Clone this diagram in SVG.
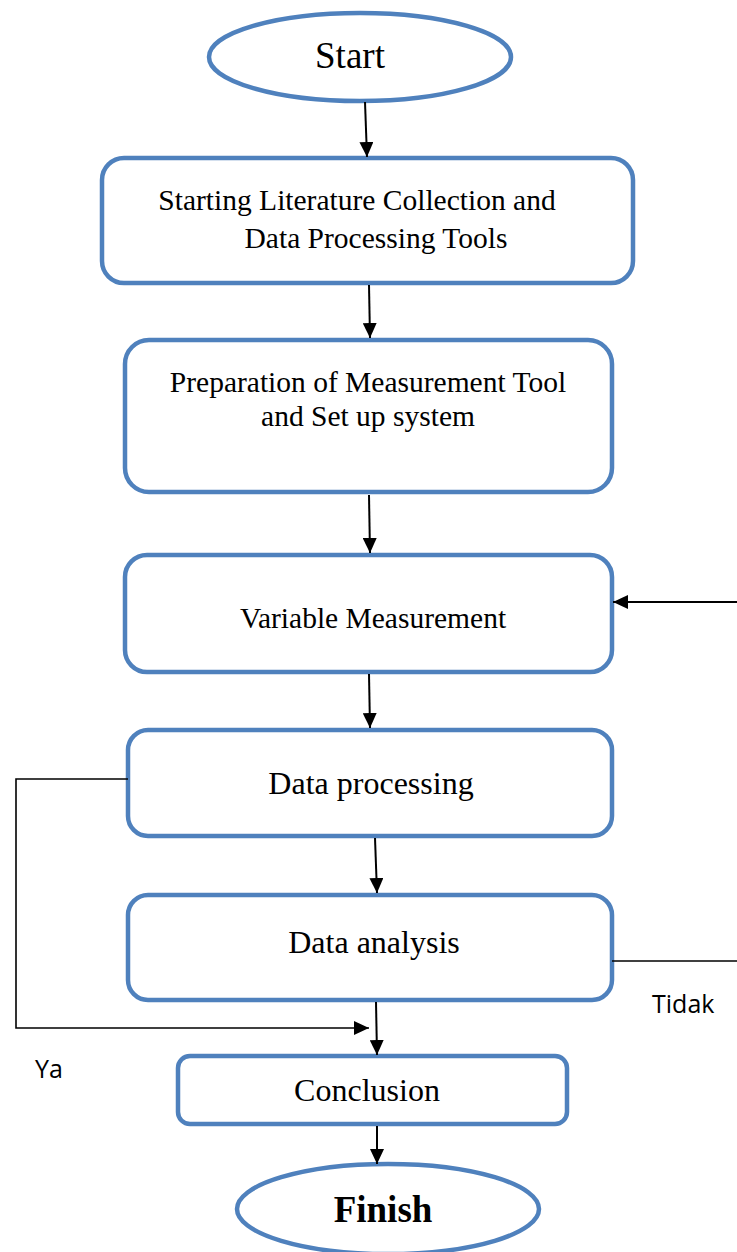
<svg xmlns="http://www.w3.org/2000/svg" width="737" height="1252" viewBox="0 0 737 1252">
  <style>
    .node { fill: #ffffff; stroke: #4f81bd; stroke-width: 4.5; }
    .lbl { font-family: "Liberation Serif", "Times New Roman", serif; font-size: 29.5px; fill: #000; text-anchor: middle; }
    .big { font-size: 32px; }
    .term { font-size: 37px; }
    .side { font-family: "Open Sans", "Liberation Sans", sans-serif; font-size: 25px; fill: #000; }
    .wire { fill: none; stroke: #000; stroke-width: 2; }
    .thin { fill: none; stroke: #000; stroke-width: 1.6; }
  </style>
  <defs>
    <marker id="arrow" viewBox="0 0 15 14" refX="15" refY="7" markerWidth="15" markerHeight="14" markerUnits="userSpaceOnUse" orient="auto">
      <path d="M0,0 L15,7 L0,14 Z" fill="#000"/>
    </marker>
  </defs>

  <g id="start">
    <ellipse class="node" cx="360" cy="57" rx="151" ry="44"/>
    <text class="lbl term" x="350" y="68">Start</text>
  </g>

  <g id="literature">
    <rect class="node" x="102" y="158" width="531" height="125" rx="22"/>
    <text class="lbl" x="357" y="210">Starting Literature Collection and</text>
    <text class="lbl" x="376" y="248">Data Processing Tools</text>
  </g>

  <g id="preparation">
    <rect class="node" x="125" y="340" width="487" height="152" rx="24"/>
    <text class="lbl" x="368" y="392">Preparation of Measurement Tool</text>
    <text class="lbl" x="368" y="426">and Set up system</text>
  </g>

  <g id="measurement">
    <rect class="node" x="125" y="555" width="487" height="117" rx="22"/>
    <text class="lbl" x="373" y="628">Variable Measurement</text>
  </g>

  <g id="processing">
    <rect class="node" x="128" y="730" width="484" height="106" rx="20"/>
    <text class="lbl big" x="371" y="794">Data processing</text>
  </g>

  <g id="analysis">
    <rect class="node" x="128" y="895" width="484" height="105" rx="20"/>
    <text class="lbl big" x="374" y="953">Data analysis</text>
  </g>

  <g id="conclusion">
    <rect class="node" x="178" y="1056" width="389" height="68" rx="12"/>
    <text class="lbl big" x="367" y="1101">Conclusion</text>
  </g>

  <g id="finish">
    <ellipse class="node" cx="388" cy="1209" rx="151" ry="45"/>
    <text class="lbl term" x="383" y="1222" font-weight="bold">Finish</text>
  </g>

  <g id="connectors">
    <line class="wire" x1="365" y1="102" x2="367" y2="157" marker-end="url(#arrow)"/>
    <line class="wire" x1="369" y1="285" x2="370" y2="338" marker-end="url(#arrow)"/>
    <line class="wire" x1="369" y1="495" x2="370" y2="553" marker-end="url(#arrow)"/>
    <line class="wire" x1="369" y1="674" x2="370" y2="728" marker-end="url(#arrow)"/>
    <line class="wire" x1="375" y1="838" x2="377" y2="893" marker-end="url(#arrow)"/>
    <line class="wire" x1="376" y1="1002" x2="377" y2="1055" marker-end="url(#arrow)"/>
    <line class="wire" x1="377" y1="1126" x2="377" y2="1164" marker-end="url(#arrow)"/>
    <!-- loop back into Variable Measurement -->
    <line class="wire" x1="737" y1="602" x2="613" y2="602" marker-end="url(#arrow)"/>
    <!-- "Tidak" branch leaving Data analysis -->
    <line class="thin" x1="612" y1="961" x2="737" y2="961"/>
    <!-- "Ya" branch from Data processing to Conclusion -->
    <polyline class="thin" points="128,779 16,779 16,1028 369,1028" marker-end="url(#arrow)"/>
  </g>

  <g id="labels">
    <text class="side" x="652" y="1013">Tidak</text>
    <text class="side" x="35" y="1078">Ya</text>
  </g>
</svg>
